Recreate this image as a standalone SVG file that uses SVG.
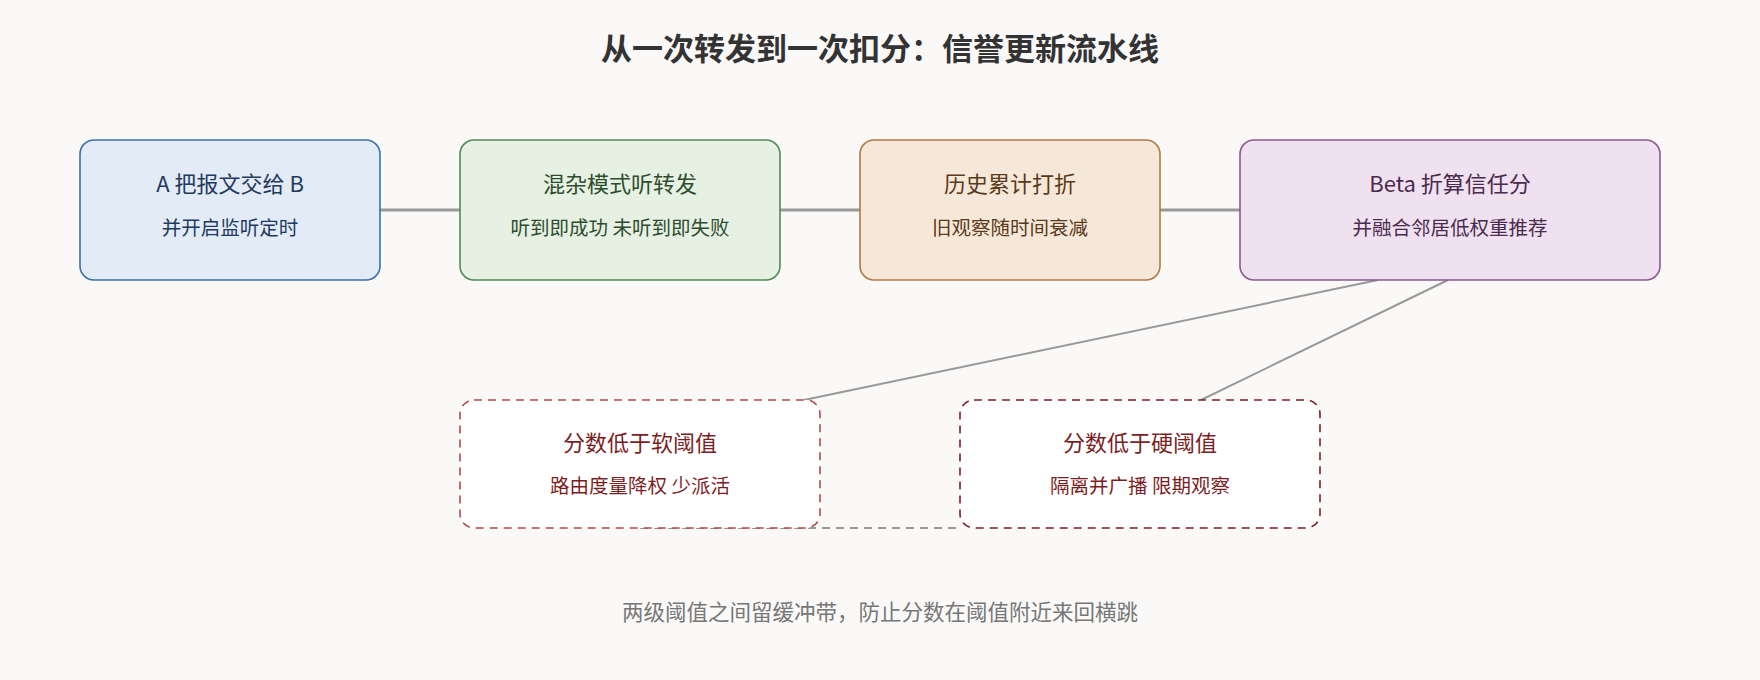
<svg xmlns="http://www.w3.org/2000/svg" width="1760" height="680" viewBox="0 0 1760 680">
<style>
text{font-family:"Noto Sans CJK SC","Noto Sans",sans-serif;text-anchor:middle}
.t1{font-size:22px}.t2{font-size:19.5px}
.ln{stroke:#999;stroke-width:2;fill:none}
.hl{stroke:#999;stroke-width:3;fill:none}
.bx{stroke-width:1.6}
</style>
<rect width="1760" height="680" fill="#faf9f7"/>
<text x="880" y="60" font-size="31" font-weight="bold" fill="#333">从一次转发到一次扣分：信誉更新流水线</text>
<g id="connectors">
<line class="hl" x1="380" y1="210" x2="460" y2="210"/>
<line class="hl" x1="780" y1="210" x2="860" y2="210"/>
<line class="hl" x1="1160" y1="210" x2="1240" y2="210"/>
<line class="ln" x1="1378" y1="280" x2="804" y2="400"/>
<line class="ln" x1="1448" y1="280" x2="1201" y2="400"/>
<line class="ln" x1="640" y1="528" x2="960" y2="528" stroke-dasharray="8,6"/>
</g>
<g id="n1"><rect class="bx" x="80" y="140" width="300" height="140" rx="14" fill="#e3ecf6" stroke="#3d6fa8"/>
<text class="t1" x="230" y="192" fill="#1f3a5f">A 把报文交给 B</text><text class="t2" x="230" y="235" fill="#1f3a5f">并开启监听定时</text></g>
<g id="n2"><rect class="bx" x="460" y="140" width="320" height="140" rx="14" fill="#e6f0e3" stroke="#4f8a55"/>
<text class="t1" x="620" y="192" fill="#2e4d2e">混杂模式听转发</text><text class="t2" x="620" y="235" fill="#2e4d2e">听到即成功 未听到即失败</text></g>
<g id="n3"><rect class="bx" x="860" y="140" width="300" height="140" rx="14" fill="#f6e8d9" stroke="#b07a44"/>
<text class="t1" x="1010" y="192" fill="#5a3a1a">历史累计打折</text><text class="t2" x="1010" y="235" fill="#5a3a1a">旧观察随时间衰减</text></g>
<g id="n4"><rect class="bx" x="1240" y="140" width="420" height="140" rx="14" fill="#efe1ef" stroke="#8a5a8e"/>
<text class="t1" x="1450" y="192" fill="#4a2a4e">Beta 折算信任分</text><text class="t2" x="1450" y="235" fill="#4a2a4e">并融合邻居低权重推荐</text></g>
<g id="n5"><rect class="bx" x="460" y="400" width="360" height="128" rx="14" fill="#fff" stroke="#b04a4a" stroke-dasharray="8,6"/>
<text class="t1" x="640" y="451" fill="#7a1f1f">分数低于软阈值</text><text class="t2" x="640" y="493" fill="#7a1f1f">路由度量降权 少派活</text></g>
<g id="n6"><rect class="bx" x="960" y="400" width="360" height="128" rx="14" fill="#fff" stroke="#7a1f26" stroke-dasharray="8,6"/>
<text class="t1" x="1140" y="451" fill="#7a1f1f">分数低于硬阈值</text><text class="t2" x="1140" y="493" fill="#7a1f1f">隔离并广播 限期观察</text></g>
<text x="880" y="620" font-size="21.5" fill="#777">两级阈值之间留缓冲带，防止分数在阈值附近来回横跳</text>
</svg>
